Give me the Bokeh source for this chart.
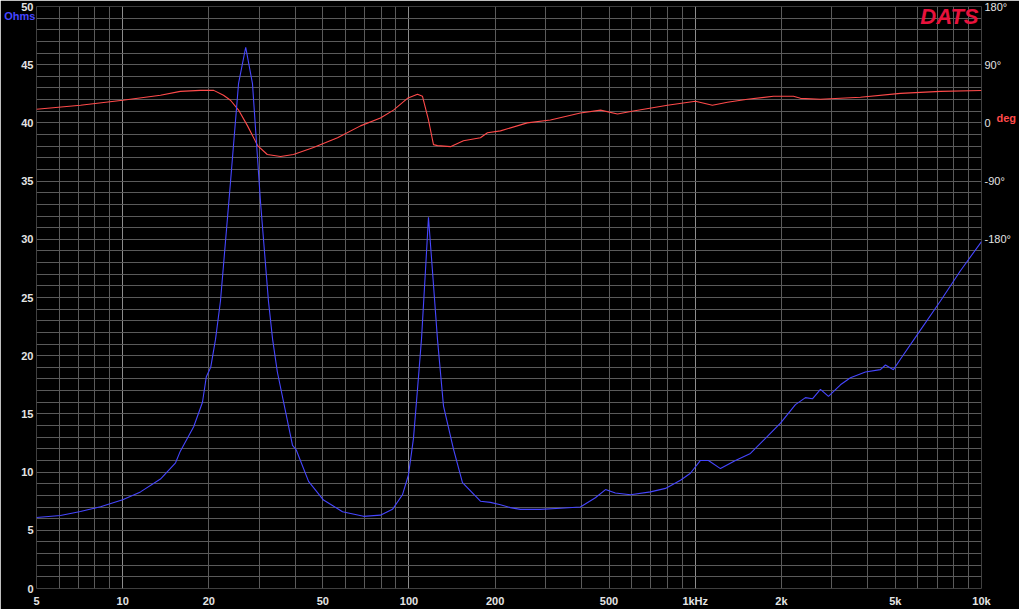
from bokeh.plotting import figure
from bokeh.models import (Range1d, LinearAxis, FixedTicker, Grid, Label)
from bokeh.embed import file_html
from bokeh.resources import INLINE

# ---- data ----
imp_freq = [5, 6.06, 7.12, 8.37, 10.0, 11.54, 13.55, 15.3, 15.9, 17.7, 19.0, 19.6, 20.3, 21.1,
            21.96, 23.8, 25.4, 26.9, 28.4, 30.3, 32.3, 33.4, 34.7, 39.2, 40.4, 44.6, 50.3,
            58.6, 69.4, 79.5, 87.6, 94.9, 99.6, 103.7, 107.1, 110.6, 114.2, 117, 120.8,
            125.8, 132, 143, 153.8, 177.7, 192.6, 208.7, 226, 245, 288, 338, 397, 448, 486,
            526, 594, 698, 787, 888, 962, 1043, 1112, 1225, 1382, 1559, 1759, 1985, 2239,
            2427, 2567, 2738, 2920, 3216, 3485, 3931, 4434, 4618, 4924, 5208, 6117, 7187,
            8442, 10000]
imp_ohms = [6.1, 6.27, 6.61, 7.03, 7.63, 8.3, 9.4, 10.8, 11.8, 13.9, 16.0, 18.2, 19.0, 21.4,
            24.7, 34.9, 43.4, 46.5, 43.4, 33.2, 24.7, 21.4, 18.6, 12.3, 11.9, 9.2, 7.6,
            6.6, 6.2, 6.3, 6.8, 8.05, 9.75, 12.9, 17.1, 21.4, 27.3, 31.9, 27.3,
            21.4, 15.7, 12.0, 9.1, 7.5, 7.4, 7.2, 6.95, 6.8, 6.8, 6.9, 7.0, 7.8, 8.5,
            8.2, 8.05, 8.3, 8.6, 9.3, 9.9, 11.0, 11.0, 10.3, 11.0, 11.6, 12.9, 14.2, 15.8,
            16.4, 16.3, 17.1, 16.5, 17.5, 18.1, 18.6, 18.8, 19.2, 18.8, 19.7, 22.2, 24.7,
            27.3, 29.8]

ph_freq = [5, 7.12, 10, 13.55, 15.9, 18.7, 20.8, 22.5, 23.8, 25.4, 27.3, 29.6, 32.0, 35.6,
           39.5, 46.4, 56.3, 67.7, 79.5, 88.3, 98.8, 107.1, 111.5, 117, 121.8, 125.8, 139.6,
           155, 177.7, 188, 208.7, 259, 312, 397, 467, 535, 608, 800, 1002, 1148, 1296, 1522,
           1876, 2203, 2332, 2738, 3776, 5208, 7187, 10000]
ph_deg = [21, 27.4, 35, 42.7, 48.8, 50.3, 50.3, 42.7, 35, 19.8, -4.6, -35, -48.9, -51.9,
          -48.9, -38.2, -22.9, -4.6, 7.6, 19.8, 38, 44.2, 41.1, 4.5, -33.6, -35.1, -36.7,
          -27.5, -23, -15.3, -12.3, 0, 4.5, 15.2, 19.8, 13.7, 18.3, 27.4, 33.5, 27.4, 32, 36.6,
          41.1, 41.1, 38, 36.6, 39.6, 45.7, 48.8, 50]

x_ticks = [5, 10, 20, 50, 100, 200, 500, 1000, 2000, 5000, 10000]
x_labels = ["5", "10", "20", "50", "100", "200", "500", "1kHz", "2k", "5k", "10k"]
y_ticks = [0, 5, 10, 15, 20, 25, 30, 35, 40, 45, 50]
ph_ticks = [-180, -90, 0, 90, 180]
ph_labels = ["-180°", "-90°", "0", "90°", "180°"]

PH_LO = -720
PH_HI = 180

FONT = "Liberation Sans"
BG = "#000000"
TXT = "#e4e4e4"
BLUE = "#4646ff"
RED = "#ff4a4a"

p = figure(width=1019, height=609, x_axis_type="log",
           x_range=Range1d(5, 10000), y_range=Range1d(0, 50),
           output_backend="svg", toolbar_location=None,
           background_fill_color=BG, border_fill_color=BG,
           min_border_left=36, min_border_right=38, min_border_top=6, min_border_bottom=17)
p.outline_line_color = None
p.extra_y_ranges = {"ph": Range1d(PH_LO, PH_HI)}
p.grid.visible = False

minor_x = [5]
for dec in [1, 10, 100, 1000]:
    for m in range(2, 10):
        v = m * dec
        if 5 < v < 10000:
            minor_x.append(v)
decade_x = [10, 100, 1000, 10000]
p.add_layout(Grid(dimension=0, ticker=FixedTicker(ticks=minor_x),
                  grid_line_color="#5a5a5a", grid_line_width=1))
p.add_layout(Grid(dimension=0, ticker=FixedTicker(ticks=decade_x),
                  grid_line_color="#8c8c8c", grid_line_width=1))
p.add_layout(Grid(dimension=1, ticker=FixedTicker(ticks=list(range(0, 51))),
                  grid_line_color="#5a5a5a", grid_line_width=1))

xa = p.xaxis[0]
xa.ticker = FixedTicker(ticks=x_ticks)
xa.major_label_overrides = {t: l for t, l in zip(x_ticks, x_labels)}
ya = p.yaxis[0]
ya.ticker = FixedTicker(ticks=y_ticks)

ra = LinearAxis(y_range_name="ph", ticker=FixedTicker(ticks=ph_ticks))
ra.major_label_overrides = {t: l for t, l in zip(ph_ticks, ph_labels)}
p.add_layout(ra, "right")

for ax in (xa, ya, ra):
    ax.axis_line_color = None
    ax.major_tick_line_color = None
    ax.minor_tick_line_color = None
    ax.major_tick_out = 0
    ax.major_tick_in = 0
    ax.minor_tick_out = 0
    ax.minor_tick_in = 0
    ax.major_label_text_color = TXT
    ax.major_label_text_font = FONT
    ax.major_label_text_font_size = "11px"
    ax.major_label_standoff = 3
for ax in (xa, ya):
    ax.major_label_text_font_style = "bold"
xa.major_label_standoff = 6

# "Ohms" as the left axis' own label, drawn just below the top end of the axis
ya.axis_label = "\u00a0\nOhms"
ya.axis_label_orientation = "horizontal"
ya.axis_label_align = "end"
ya.axis_label_standoff_mode = "axis"
ya.axis_label_standoff = 1
ya.axis_label_text_line_height = 1.5
ya.axis_label_text_color = BLUE
ya.axis_label_text_font = FONT
ya.axis_label_text_font_size = "11px"
ya.axis_label_text_font_style = "bold"

# red "deg" unit next to the 0 tick of the phase axis
ra.axis_label = "\u00a0\ndeg"
ra.axis_label_orientation = "horizontal"
ra.axis_label_align = "end"
ra.axis_label_standoff_mode = "axis"
ra.axis_label_standoff = 15
ra.axis_label_text_align = "left"
ra.axis_label_text_line_height = 18.5
ra.axis_label_text_color = RED
ra.axis_label_text_font = FONT
ra.axis_label_text_font_size = "11px"
ra.axis_label_text_font_style = "bold"

p.line(ph_freq, ph_deg, y_range_name="ph", line_color=RED, line_width=1.1)
p.line(imp_freq, imp_ohms, line_color=BLUE, line_width=1.1)

p.add_layout(Label(x=10000, y=50, x_offset=-3, y_offset=3, text="DATS", text_align="right",
                   text_baseline="top", text_color="#e8123c", text_font=FONT,
                   text_font_size="22px", text_font_style="bold italic"))

open("out.html", "w").write(file_html(p, INLINE))
